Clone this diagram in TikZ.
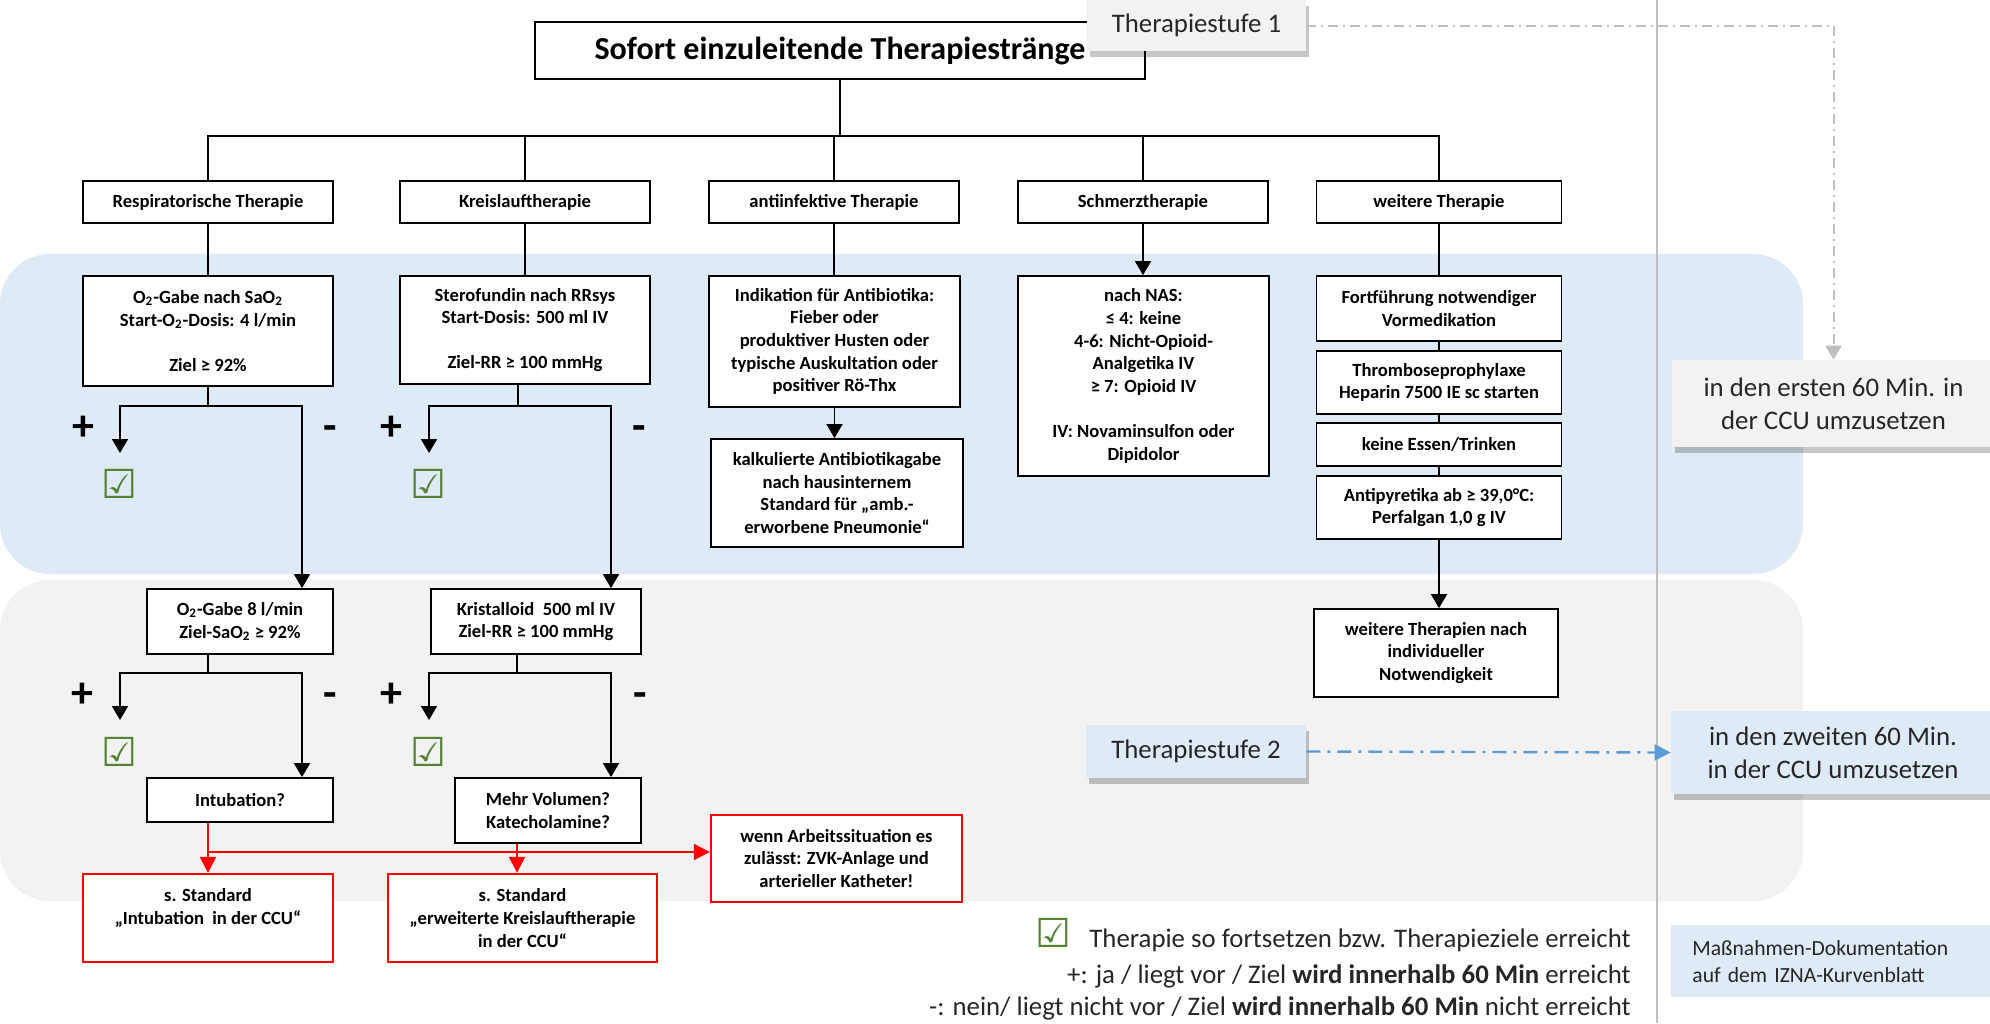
\documentclass[tikz,border=0pt]{standalone}
\usepackage{fontspec}
\setmainfont{Carlito}
\newfontfamily\symbolfam{DejaVu Sans}
\usetikzlibrary{arrows.meta,shadows}

\definecolor{bandblue}{HTML}{DEEBF7}
\definecolor{bandgray}{HTML}{F2F2F2}
\definecolor{ckgreen}{HTML}{548235}
\definecolor{linegray}{HTML}{BFBFBF}
\definecolor{dashblue}{HTML}{5B9BD5}
\definecolor{txtdark}{HTML}{262626}

\newcommand\flowfont{\bfseries\fontsize{9.3}{11.3}\selectfont}
\newcommand\headfont{\bfseries\fontsize{16}{19}\selectfont}
\newcommand\stagefont{\fontsize{13.4}{16.3}\selectfont}
\newcommand\signfont{\bfseries\fontsize{22}{26}\selectfont}
\newcommand\notefont{\fontsize{10.8}{13.4}\selectfont}
\newcommand\ckfont{\symbolfam\bfseries\fontsize{20}{20}\selectfont}
\newcommand\ckmark{{\ckfont\textcolor{ckgreen}{☑}}}

\tikzset{
  bx/.style={draw, line width=0.9pt, fill=white, align=center, inner sep=0pt, font=\flowfont},
  br/.style={bx, minimum width=125pt, minimum height=21pt},
  rbx/.style={bx, draw=red, line width=1.2pt},
  ln/.style={line width=0.9pt},
  arr/.style={line width=0.9pt, -{Triangle[width=8pt,length=7pt]}},
  rln/.style={line width=1.2pt, red},
  rarr/.style={line width=1.2pt, red, -{Triangle[width=8pt,length=8pt]}},
  stagebox/.style={align=center, inner sep=0pt, font=\stagefont, text=txtdark,
    drop shadow={shadow xshift=1.5pt, shadow yshift=-3pt, fill=black, opacity=0.22}},
  sign/.style={anchor=base, inner sep=0pt, font=\signfont},
  ck/.style={inner sep=0pt, font=\ckfont, text=ckgreen},
  legend/.style={anchor=base east, inner sep=0pt, font=\stagefont, text=txtdark},
}

\begin{document}
\begin{tikzpicture}[x=0.5pt,y=-0.5pt]
\useasboundingbox (0,0) rectangle (1990,1023);

% stage bands
\fill[bandblue, rounded corners=25pt] (0,254) rectangle (1803,574);
\fill[bandgray, rounded corners=25pt] (0,580) rectangle (1803,901);

% separator of the documentation column
\draw[linegray, line width=0.8pt] (1657,0) -- (1657,1023);

% heading and branches
\node[bx, font=\headfont, minimum width=305pt, minimum height=28.5pt] (title) at (840,50.5) {Sofort einzuleitende Therapiestränge};

\node[br] (resp)  at (208,202)    {Respiratorische Therapie};
\node[br] (kreis) at (525,202)    {Kreislauftherapie};
\node[br] (anti)  at (834,202)    {antiinfektive Therapie};
\node[br] (schm)  at (1143,202)   {Schmerztherapie};
\node[br, minimum width=122.5pt] (weit) at (1439,202) {weitere Therapie};

\coordinate (bar) at (840,136);
\draw[ln] (title.south) -- (bar);
\draw[ln] (resp.north) |- (bar) -| (weit.north);
\draw[ln] (kreis.north) -- (kreis.north |- bar);
\draw[ln] (anti.north) -- (anti.north |- bar);
\draw[ln] (schm.north) -- (schm.north |- bar);

% first stage boxes
\node[bx, minimum width=125pt, minimum height=55pt] (o2) at (208,331)
  {O\textsubscript{2}-Gabe nach SaO\textsubscript{2}\\Start-O\textsubscript{2}-Dosis: 4 l/min\\[11.3pt]Ziel ≥ 92\%};
\node[bx, minimum width=125pt, minimum height=54pt] (stero) at (525,330)
  {Sterofundin nach RRsys\\Start-Dosis: 500 ml IV\\[11.3pt]Ziel-RR ≥ 100 mmHg};
\node[bx, minimum width=125.5pt, minimum height=65.5pt] (indik) at (834.5,341.5)
  {Indikation für Antibiotika:\\Fieber oder\\produktiver Husten oder\\typische Auskultation oder\\positiver Rö-Thx};
\node[bx, minimum width=126pt, minimum height=54pt] (kalk) at (837,493)
  {kalkulierte Antibiotikagabe\\nach hausinternem\\Standard für „amb.-\\erworbene Pneumonie“};
\node[bx, minimum width=125.5pt, minimum height=100pt] (nas) at (1143.5,376)
  {nach NAS:\\≤ 4: keine\\4-6: Nicht-Opioid-\\Analgetika IV\\≥ 7: Opioid IV\\[11.3pt]IV: Novaminsulfon oder\\Dipidolor};
\node[bx, minimum width=122.5pt, minimum height=32.5pt] (fort) at (1439,308.5)
  {Fortführung notwendiger\\Vormedikation};
\node[bx, minimum width=122.5pt, minimum height=31.5pt] (thromb) at (1439,382.5)
  {Thromboseprophylaxe\\Heparin 7500 IE sc starten};
\node[bx, minimum width=122.5pt, minimum height=21.5pt] (essen) at (1439,444.5)
  {keine Essen/Trinken};
\node[bx, minimum width=122.5pt, minimum height=31.5pt] (antipy) at (1439,507.5)
  {Antipyretika ab ≥ 39,0°C:\\Perfalgan 1,0 g IV};

\draw[ln] (resp) -- (o2);
\draw[ln] (kreis) -- (stero);
\draw[ln] (anti.south) -- (anti.south |- indik.north);
\draw[arr] (schm.south) -- (schm.south |- nas.north);
\draw[ln] (weit.south) -- (weit.south |- fort.north);
\draw[arr] (indik.south) -- (indik.south |- kalk.north);
\draw[ln] (fort) -- (thromb);
\draw[ln] (thromb) -- (essen);
\draw[ln] (essen) -- (antipy);

% second stage boxes
\node[bx, minimum width=93pt, minimum height=32.5pt] (o2b) at (240,621.5)
  {O\textsubscript{2}-Gabe 8 l/min\\Ziel-SaO\textsubscript{2} ≥ 92\%};
\node[bx, minimum width=105pt, minimum height=32.5pt] (krist) at (536,621.5)
  {Kristalloid\ \ 500 ml IV\\Ziel-RR ≥ 100 mmHg};
\node[bx, minimum width=93pt, minimum height=22pt] (intub) at (240,800) {Intubation?};
\node[bx, minimum width=93pt, minimum height=32.5pt] (mehr) at (548,810.5)
  {Mehr Volumen?\\Katecholamine?};
\node[bx, minimum width=122pt, minimum height=44pt] (weiterT) at (1436,653)
  {weitere Therapien nach\\individueller\\Notwendigkeit};
\draw[arr] (antipy.south) -- (antipy.south |- weiterT.north);

% yes / no splits
\coordinate (o2s) at (208,406);  \coordinate (o2p) at (120,453);  \coordinate (o2m) at (302,406);
\draw[ln] (o2.south) -- (o2s);
\draw[arr] (o2s) -| (o2p);
\draw[arr] (o2s) -| (o2m |- o2b.north);

\coordinate (ks) at (518,406);  \coordinate (kp) at (429,453);  \coordinate (km) at (611,406);
\draw[ln] (ks |- stero.south) -- (ks);
\draw[arr] (ks) -| (kp);
\draw[arr] (ks) -| (km |- krist.north);

\coordinate (o2bs) at (208,673);  \coordinate (o2bp) at (120,720);  \coordinate (o2bm) at (302,673);
\draw[ln] (o2bs |- o2b.south) -- (o2bs);
\draw[arr] (o2bs) -| (o2bp);
\draw[arr] (o2bs) -| (o2bm |- intub.north);

\coordinate (kbs) at (517,673);  \coordinate (kbp) at (429,720);  \coordinate (kbm) at (611,673);
\draw[ln] (kbs |- krist.south) -- (kbs);
\draw[arr] (kbs) -| (kbp);
\draw[arr] (kbs) -| (kbm |- mehr.north);

\node[sign] (p1) at (83,440) {+};    \node[sign] (m1) at (330,440) {-};
\node[sign] (p2) at (391.5,440) {+}; \node[sign] (m2) at (639,440) {-};
\node[sign] (p3) at (82,707) {+};    \node[sign] (m3) at (330,707) {-};
\node[sign] (p4) at (391.5,707) {+}; \node[sign] (m4) at (640,707) {-};

\node[ck] (ck1) at (119.5,484) {☑};
\node[ck] (ck2) at (428.5,484) {☑};
\node[ck] (ck3) at (119.5,752) {☑};
\node[ck] (ck4) at (428.5,752) {☑};

% escalation (red)
\node[rbx, minimum width=125pt, minimum height=44pt] (std1) at (208,918)
  {s. Standard\\„Intubation\ \ in der CCU“\\\mbox{}};
\node[rbx, minimum width=134.5pt, minimum height=44pt] (std2) at (522.5,918)
  {s. Standard\\„erweiterte Kreislauftherapie\\in der CCU“};
\node[rbx, minimum width=125.5pt, minimum height=43.5pt] (wenn) at (836.5,858.5)
  {wenn Arbeitssituation es\\zulässt: ZVK-Anlage und\\arterieller Katheter!};

\coordinate (rs) at (208,852);
\coordinate (ms) at (517,852);
\draw[rarr] (rs |- intub.south) -- (std1.north);
\draw[rarr] (rs) -- (wenn.west |- rs);
\draw[rarr] (ms |- mehr.south) -- (ms |- std2.north);

% stage labels and timing
\node[stagebox, fill=bandgray, minimum width=109.5pt, minimum height=25.5pt] (ts1) at (1196.5,25.5) {Therapiestufe 1};
\node[stagebox, fill=bandgray, minimum width=161.5pt, minimum height=43.5pt] (first) at (1833.5,403.5)
  {in den ersten 60 Min. in\\der CCU umzusetzen};
\node[stagebox, fill=bandblue, minimum width=110pt, minimum height=26.5pt] (ts2) at (1196,751.5) {Therapiestufe 2};
\node[stagebox, fill=bandblue, minimum width=162pt, minimum height=41.5pt] (second) at (1833,752.5)
  {in den zweiten 60 Min.\\in der CCU umzusetzen};

\draw[linegray, line width=1pt, dash pattern=on 5pt off 2.5pt on 1pt off 2.5pt,
      -{Triangle[width=8pt,length=7pt]}] (ts1.east) -| (first.north);
\draw[dashblue, line width=1.2pt, dash pattern=on 7pt off 3.5pt on 1.5pt off 3.5pt,
      -{Triangle[width=8pt,length=8pt]}] (ts2.east) -- (second.west);

\node[fill=bandblue, anchor=north west, minimum height=36pt, text width=141pt,
      inner xsep=10.5pt, inner ysep=0pt, align=left, font=\notefont, text=txtdark] (doc) at (1671,925)
  {Maßnahmen-Dokumentation\\auf dem IZNA-Kurvenblatt};

% legend
\node[legend] (leg1) at (1631,947) {\ckmark\hspace{9pt}Therapie so fortsetzen bzw. Therapieziele erreicht};
\node[legend] (leg2) at (1631,983) {+: ja / liegt vor / Ziel \textbf{wird innerhalb 60 Min} erreicht};
\node[legend] (leg3) at (1631,1015) {-: nein/ liegt nicht vor / Ziel \textbf{wird innerhalb 60 Min} nicht erreicht};
\end{tikzpicture}
\end{document}
